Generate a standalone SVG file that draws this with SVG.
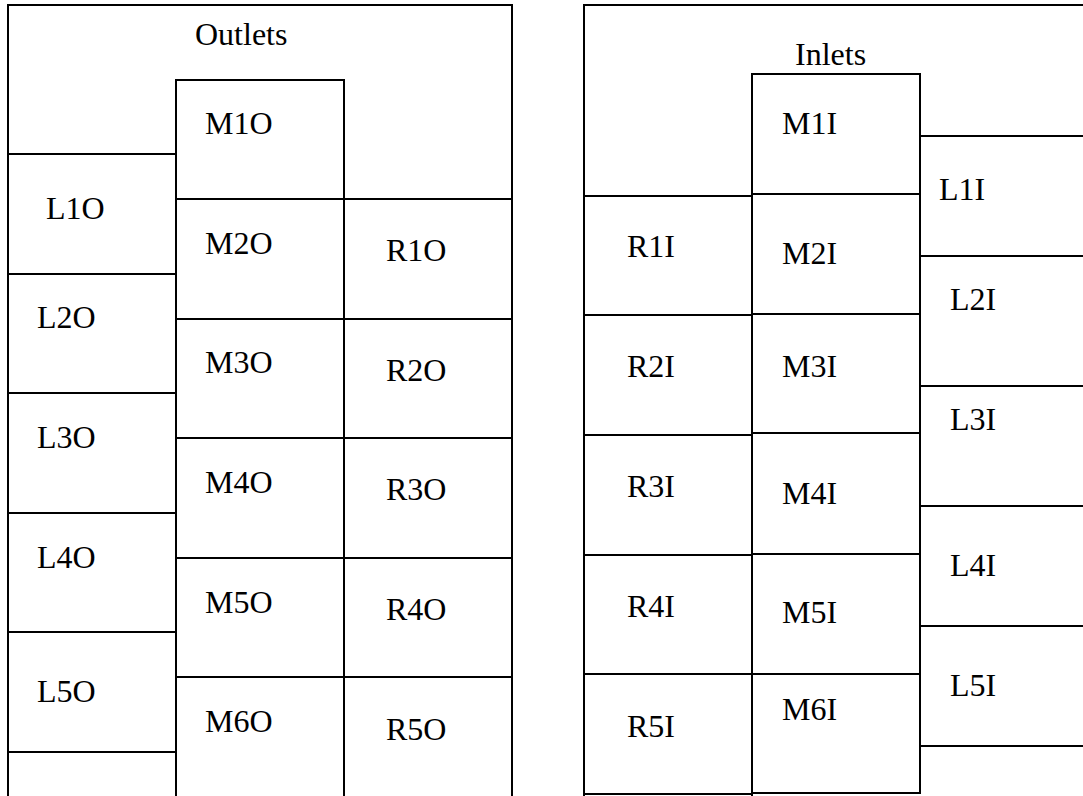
<svg xmlns="http://www.w3.org/2000/svg" width="1083" height="796" viewBox="0 0 1083 796">
<style>
.ln{stroke:#000;stroke-width:2;fill:none}
text{font-family:"Liberation Serif","Times New Roman",serif;font-size:32px;fill:#000}
</style>
<rect width="1083" height="796" fill="#fff"/>
<g id="connectors" class="ln">
<path d="M8,796 V5 H512 V796"/>
<path d="M176,796 V80 H344 V796"/>
<path d="M8,154 H176 M8,274 H176 M8,393 H176 M8,513 H176 M8,632 H176 M8,752 H176"/>
<path d="M176,199 H512 M176,319 H512 M176,438 H512 M176,558 H512 M176,677 H512"/>
<path d="M584,796 V5 H1083"/>
<path d="M752,796 V74 H920 V794"/>
<path d="M584,196 H752 M584,315 H752 M584,435 H752 M584,555 H752 M584,674 H752 M584,794 H752"/>
<path d="M752,194 H920 M752,314 H920 M752,433 H920 M752,554 H920 M752,674 H920 M752,793 H920"/>
<path d="M920,136 H1083 M920,256 H1083 M920,386 H1083 M920,506 H1083 M920,626 H1083 M920,746 H1083"/>
</g>
<g id="outlets"><text x="195" y="45">Outlets</text></g>
<g id="M1O"><text x="205" y="134">M1O</text></g>
<g id="M2O"><text x="205" y="254">M2O</text></g>
<g id="M3O"><text x="205" y="373">M3O</text></g>
<g id="M4O"><text x="205" y="493">M4O</text></g>
<g id="M5O"><text x="205" y="613">M5O</text></g>
<g id="M6O"><text x="205" y="732">M6O</text></g>
<g id="L1O"><text x="46" y="219">L1O</text></g>
<g id="L2O"><text x="37" y="328">L2O</text></g>
<g id="L3O"><text x="37" y="448">L3O</text></g>
<g id="L4O"><text x="37" y="568">L4O</text></g>
<g id="L5O"><text x="37" y="702">L5O</text></g>
<g id="R1O"><text x="386" y="261">R1O</text></g>
<g id="R2O"><text x="386" y="381">R2O</text></g>
<g id="R3O"><text x="386" y="500">R3O</text></g>
<g id="R4O"><text x="386" y="620">R4O</text></g>
<g id="R5O"><text x="386" y="740">R5O</text></g>
<g id="inlets"><text x="795" y="65">Inlets</text></g>
<g id="M1I"><text x="782" y="134">M1I</text></g>
<g id="M2I"><text x="782" y="264">M2I</text></g>
<g id="M3I"><text x="782" y="377">M3I</text></g>
<g id="M4I"><text x="782" y="504">M4I</text></g>
<g id="M5I"><text x="782" y="623">M5I</text></g>
<g id="M6I"><text x="782" y="720">M6I</text></g>
<g id="R1I"><text x="627" y="257">R1I</text></g>
<g id="R2I"><text x="627" y="377">R2I</text></g>
<g id="R3I"><text x="627" y="497">R3I</text></g>
<g id="R4I"><text x="627" y="617">R4I</text></g>
<g id="R5I"><text x="627" y="737">R5I</text></g>
<g id="L1I"><text x="939" y="200">L1I</text></g>
<g id="L2I"><text x="950" y="310">L2I</text></g>
<g id="L3I"><text x="950" y="430">L3I</text></g>
<g id="L4I"><text x="950" y="576">L4I</text></g>
<g id="L5I"><text x="950" y="696">L5I</text></g>
</svg>
